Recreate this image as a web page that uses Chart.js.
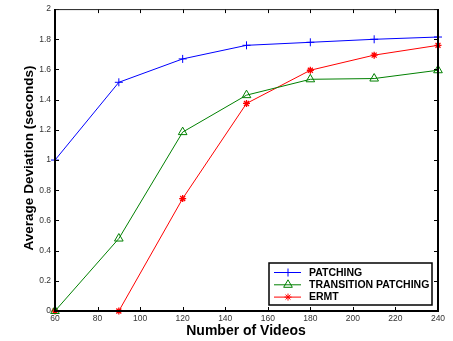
<!DOCTYPE html>
<html>
<head>
<meta charset="utf-8">
<script src="https://cdn.jsdelivr.net/npm/chart.js@4"></script>
<style>
  html, body { margin: 0; padding: 0; background: #fff; }
  #wrap { width: 453px; height: 341px; }
</style>
</head>
<body>
<div id="wrap"><canvas id="chart" width="453" height="341"></canvas></div>
<script>
// values
const videos = [60, 90, 120, 150, 180, 210, 240];
const patching = [1.0, 1.515, 1.67, 1.76, 1.78, 1.80, 1.815];
const transitionPatching = [0, 0.48, 1.185, 1.43, 1.535, 1.54, 1.595];
const ermt = [0, 0, 0.745, 1.375, 1.595, 1.695, 1.76];
const yTicks = [0, 0.2, 0.4, 0.6, 0.8, 1, 1.2, 1.4, 1.6, 1.8, 2];
const xTicks = [60, 80, 100, 120, 140, 160, 180, 200, 220, 240];

const FONT = 'Liberation Sans, Arial, sans-serif';

function pts(ys) {
    return videos.map((v, i) => ({ x: v, y: ys[i] }));
}

// frame, inward ticks, axis titles and the legend box
const framePlugin = {
    id: 'frame',
    afterDraw(chart) {
        const ctx = chart.ctx;
        const a = chart.chartArea;
        const xs = chart.scales.x, ys = chart.scales.y;
        ctx.save();
        ctx.strokeStyle = '#000';
        ctx.lineWidth = 1;
        ctx.beginPath();
        xTicks.forEach(t => {
            const px = Math.round(xs.getPixelForValue(t)) + 0.5;
            ctx.moveTo(px, a.bottom); ctx.lineTo(px, a.bottom - 4);
            ctx.moveTo(px, a.top); ctx.lineTo(px, a.top + 4);
        });
        yTicks.forEach(t => {
            const py = Math.round(ys.getPixelForValue(t)) + 0.5;
            ctx.moveTo(a.left, py); ctx.lineTo(a.left + 4, py);
            ctx.moveTo(a.right, py); ctx.lineTo(a.right - 4, py);
        });
        ctx.stroke();
        ctx.lineWidth = 1;
        ctx.strokeStyle = '#222';
        ctx.beginPath();
        ctx.moveTo(a.left, a.top + 0.5); ctx.lineTo(a.right, a.top + 0.5);
        ctx.stroke();
        ctx.lineWidth = 2;
        ctx.strokeStyle = '#000';
        ctx.beginPath();
        ctx.moveTo(a.left, a.top); ctx.lineTo(a.left, a.bottom);
        ctx.lineTo(a.right, a.bottom); ctx.lineTo(a.right, a.top);
        ctx.stroke();

        // titles
        ctx.fillStyle = '#000';
        ctx.textAlign = 'center';
        ctx.textBaseline = 'middle';
        ctx.font = 'bold 14px ' + FONT;
        ctx.fillText('Number of Videos', 246, 331);
        ctx.save();
        ctx.translate(29, 158);
        ctx.rotate(-Math.PI / 2);
        ctx.font = 'bold 13.5px ' + FONT;
        ctx.fillText('Average Deviation (seconds)', 0, 0);
        ctx.restore();

        // legend
        const bx = 269, by = 263, bw = 163, bh = 42;
        ctx.fillStyle = '#fff';
        ctx.fillRect(bx, by, bw, bh);
        ctx.lineWidth = 1.5;
        ctx.strokeStyle = '#000';
        ctx.strokeRect(bx, by, bw, bh);
        ctx.font = 'bold 10.5px ' + FONT;
        ctx.textAlign = 'left';
        chart.data.datasets.forEach((ds, i) => {
            const y = by + 9.5 + i * 12.3;
            ctx.strokeStyle = ds.borderColor;
            ctx.lineWidth = 1;
            ctx.beginPath();
            ctx.moveTo(bx + 5, y); ctx.lineTo(bx + 32, y);
            ctx.stroke();
            ctx.fillStyle = ds.backgroundColor;
            Chart.helpers.drawPoint(ctx, {
                pointStyle: ds.pointStyle,
                radius: ds.pointRadius,
                borderWidth: ds.pointBorderWidth || 1,
                rotation: 0
            }, bx + 19, y);
            ctx.fillStyle = '#000';
            ctx.fillText(ds.label, bx + 40, y + 0.5);
        });
        ctx.restore();
    }
};

const noGrid = { display: false, drawTicks: false, tickLength: 0 };

new Chart(document.getElementById('chart'), {
    type: 'line',
    data: {
        datasets: [
            {
                label: 'PATCHING',
                data: pts(patching),
                borderColor: '#0000ff',
                backgroundColor: '#0000ff',
                pointStyle: 'cross',
                pointRadius: 4,
                pointBorderWidth: 1
            },
            {
                label: 'TRANSITION PATCHING',
                data: pts(transitionPatching),
                borderColor: '#008000',
                backgroundColor: 'rgba(0,0,0,0)',
                pointStyle: 'triangle',
                pointRadius: 5,
                pointBorderWidth: 1
            },
            {
                label: 'ERMT',
                data: pts(ermt),
                borderColor: '#ff0000',
                backgroundColor: '#ff0000',
                pointStyle: 'star',
                pointRadius: 3.5,
                pointBorderWidth: 1.3
            }
        ]
    },
    options: {
        responsive: false,
        animation: false,
        devicePixelRatio: 1,
        layout: { padding: { top: 9, right: 15, left: 0, bottom: 0 } },
        elements: { line: { borderWidth: 1, tension: 0 } },
        datasets: { line: { clip: false } },
        plugins: { legend: { display: false }, tooltip: { enabled: false } },
        scales: {
            x: {
                type: 'linear',
                min: 60,
                max: 240,
                afterFit(s) { s.height = 30; },
                afterBuildTicks(s) { s.ticks = xTicks.map(v => ({ value: v })); },
                grid: noGrid,
                border: { display: false },
                ticks: {
                    color: '#333', font: { family: FONT, size: 8.5 }, padding: 3, maxRotation: 0,
                    callback: v => String(v)
                }
            },
            y: {
                min: 0,
                max: 2,
                afterFit(s) { s.width = 55; },
                afterBuildTicks(s) { s.ticks = yTicks.map(v => ({ value: v })); },
                grid: noGrid,
                border: { display: false },
                ticks: {
                    color: '#333', font: { family: FONT, size: 8.5 }, padding: 4,
                    callback: v => String(v)
                }
            }
        }
    },
    plugins: [framePlugin]
});
</script>
</body>
</html>
